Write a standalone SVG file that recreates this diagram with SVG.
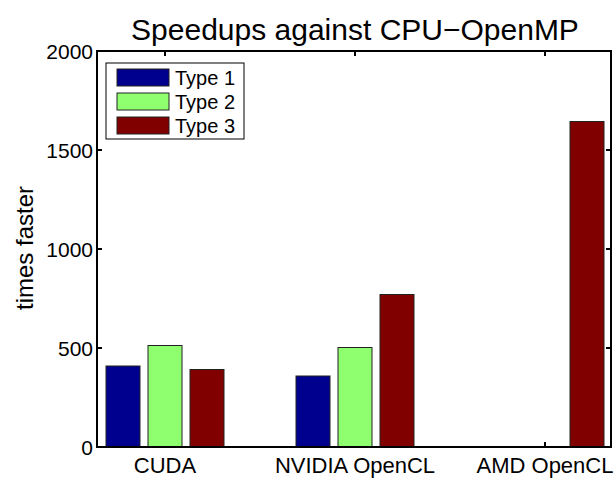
<svg xmlns="http://www.w3.org/2000/svg" width="616" height="478" viewBox="0 0 616 478">
<style>
text{font-family:"Liberation Sans",Arial,sans-serif;fill:#000}
.tk{font-size:21px;text-anchor:end}
.xl{font-size:22px;text-anchor:middle}
.lg{font-size:20px}
.bar{stroke:#222;stroke-width:1}
.t1{fill:#00008F}.t2{fill:#8FFF70}.t3{fill:#800000}
.ax{stroke:#000;stroke-width:2;fill:none}
</style>
<rect width="616" height="478" fill="#fff"/>
<text x="355" y="40" font-size="30" text-anchor="middle">Speedups against CPU−OpenMP</text>
<text transform="translate(33,248) rotate(-90)" font-size="24" text-anchor="middle">times faster</text>
<g id="ticks" class="ax">
<path d="M97 447h5M97 348h5M97 249h5M97 150h5M97 51h5M611 447h-5M611 348h-5M611 249h-5M611 150h-5M611 51h-5M165 51v5M355 51v5M545 51v5M165 447v-5M355 447v-5M545 447v-5"/>
</g>
<g id="bars">
<g id="cuda">
<rect class="bar t1" x="106" y="366" width="34" height="81"/>
<rect class="bar t2" x="148" y="345.5" width="34" height="101.5"/>
<rect class="bar t3" x="190" y="369.5" width="34" height="77.5"/>
</g>
<g id="nvidia">
<rect class="bar t1" x="296" y="376" width="34" height="71"/>
<rect class="bar t2" x="338" y="347.5" width="34" height="99.5"/>
<rect class="bar t3" x="380" y="294.5" width="34" height="152.5"/>
</g>
<g id="amd">
<rect class="bar t3" x="570" y="121.5" width="34" height="325.5"/>
</g>
</g>
<rect id="axes" class="ax" x="97" y="51" width="514" height="396"/>
<g id="ylabels">
<text class="tk" x="93" y="455">0</text>
<text class="tk" x="93" y="356">500</text>
<text class="tk" x="93" y="257">1000</text>
<text class="tk" x="93" y="158">1500</text>
<text class="tk" x="93" y="59">2000</text>
</g>
<g id="xlabels">
<text class="xl" x="165" y="473">CUDA</text>
<text class="xl" x="355" y="473">NVIDIA OpenCL</text>
<text class="xl" x="545" y="473">AMD OpenCL</text>
</g>
<g id="legend">
<rect x="106" y="63" width="138" height="76" fill="#fff" stroke="#000" stroke-width="1"/>
<rect class="bar t1" x="117" y="69" width="52" height="17"/>
<rect class="bar t2" x="117" y="93" width="52" height="17"/>
<rect class="bar t3" x="117" y="117" width="52" height="17"/>
<text class="lg" x="175" y="85">Type 1</text>
<text class="lg" x="175" y="109">Type 2</text>
<text class="lg" x="175" y="133">Type 3</text>
</g>
</svg>
